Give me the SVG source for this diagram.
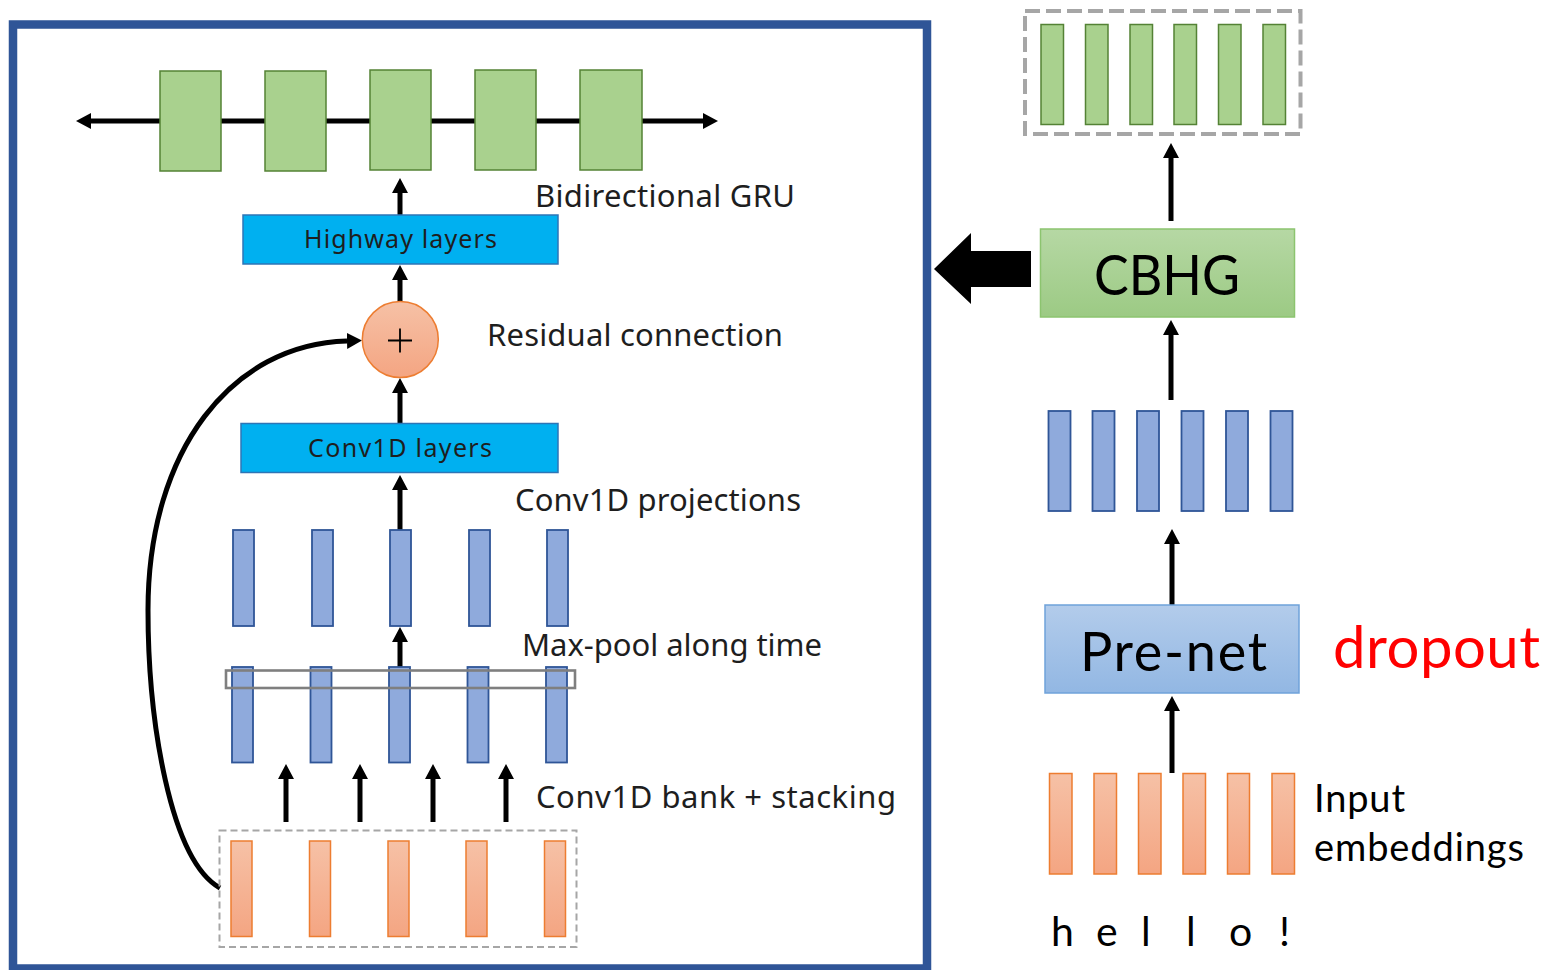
<svg xmlns="http://www.w3.org/2000/svg" width="1547" height="970" viewBox="0 0 1547 970">
  <style>
    .lbl { font-family: "Noto Sans", "Liberation Sans", sans-serif; fill: #1e1e1e; }
    .big { font-family: Lato, "Open Sans", sans-serif; fill: #000; }
    .gru { fill: #A9D18E; stroke: #548235; stroke-width: 1.5; }
    .blue { fill: #8FAADC; stroke: #2F5597; stroke-width: 1.8; }
    .orng { fill: url(#gOrange); stroke: #ED7D31; stroke-width: 1.5; }
    .cyan { fill: #00B0F0; stroke: #2E75B6; stroke-width: 1.5; }
    .arr { fill: none; stroke: #000; stroke-width: 5; marker-end: url(#ah); }
    .dash { fill: none; stroke: #A6A6A6; }
  </style>
  <defs>
    <linearGradient id="gOrange" x1="0" y1="0" x2="0" y2="1">
      <stop offset="0" stop-color="#F6C1A6"/>
      <stop offset="1" stop-color="#F4A582"/>
    </linearGradient>
    <linearGradient id="gGreen" x1="0" y1="0" x2="0" y2="1">
      <stop offset="0" stop-color="#B6D8A4"/>
      <stop offset="1" stop-color="#9CCA84"/>
    </linearGradient>
    <linearGradient id="gBlue" x1="0" y1="0" x2="0" y2="1">
      <stop offset="0" stop-color="#B3CCEB"/>
      <stop offset="1" stop-color="#92B7E3"/>
    </linearGradient>
    <marker id="ah" markerUnits="userSpaceOnUse" markerWidth="16" markerHeight="16" refX="0" refY="8" orient="auto-start-reverse">
      <path d="M0,0 L15,8 L0,16 z" fill="#000"/>
    </marker>
  </defs>

  <rect width="1547" height="970" fill="#fff"/>

  <!-- CBHG module frame -->
  <rect id="cbhg-frame" x="13" y="24.5" width="914" height="944" fill="none" stroke="#2F5597" stroke-width="8.5"/>

  <!-- connectors -->
  <g id="connectors">
    <line x1="91" y1="121" x2="703" y2="121" stroke="#000" stroke-width="5" marker-start="url(#ah)" marker-end="url(#ah)"/>
    <line class="arr" x1="400" y1="215" x2="400" y2="193"/>
    <line class="arr" x1="400" y1="302" x2="400" y2="280"/>
    <line class="arr" x1="400" y1="423" x2="400" y2="393"/>
    <line class="arr" x1="400" y1="530" x2="400" y2="490"/>
    <line class="arr" x1="400" y1="670" x2="400" y2="642"/>
    <line class="arr" x1="286" y1="822" x2="286" y2="779"/>
    <line class="arr" x1="360" y1="822" x2="360" y2="779"/>
    <line class="arr" x1="433" y1="822" x2="433" y2="779"/>
    <line class="arr" x1="506" y1="822" x2="506" y2="779"/>
    <path class="arr" stroke-width="4.2" d="M220,888 C170,860 148,720 148,610 C148,450 232,344 347,341"/>
    <line class="arr" x1="1171" y1="221" x2="1171" y2="158"/>
    <line class="arr" x1="1171" y1="400" x2="1171" y2="335"/>
    <line class="arr" x1="1172" y1="607" x2="1172" y2="544"/>
    <line class="arr" x1="1172" y1="773" x2="1172" y2="711"/>
    <polygon points="934,269 971,233 971,251 1031,251 1031,287 971,287 971,304" fill="#000"/>
  </g>

  <!-- bidirectional GRU -->
  <g id="gru">
    <rect class="gru" x="160" y="71" width="61" height="100"/>
    <rect class="gru" x="265" y="71" width="61" height="100"/>
    <rect class="gru" x="370" y="70" width="61" height="100"/>
    <rect class="gru" x="475" y="70" width="61" height="100"/>
    <rect class="gru" x="580" y="70" width="62" height="100"/>
    <text class="lbl" x="535" y="207" font-size="31" textLength="260">Bidirectional GRU</text>
  </g>

  <g id="highway">
    <rect class="cyan" x="243" y="215" width="315" height="49"/>
    <text class="lbl" x="400.5" y="248" font-size="25" text-anchor="middle" textLength="193">Highway layers</text>
  </g>

  <g id="residual">
    <circle cx="400.3" cy="339.5" r="38" fill="url(#gOrange)" stroke="#ED7D31" stroke-width="1.5"/>
    <path d="M388,340.5 H412 M400,328.5 V352.5" stroke="#000" stroke-width="1.8"/>
    <text class="lbl" x="487" y="345.5" font-size="31" textLength="296">Residual connection</text>
  </g>

  <g id="conv-layers">
    <rect class="cyan" x="241" y="423.5" width="317" height="49"/>
    <text class="lbl" x="400" y="457" font-size="25" text-anchor="middle" textLength="184">Conv1D layers</text>
  </g>

  <g id="projections">
    <rect class="blue" x="233" y="530" width="21" height="96"/>
    <rect class="blue" x="312" y="530" width="21" height="96"/>
    <rect class="blue" x="390" y="530" width="21" height="96"/>
    <rect class="blue" x="469" y="530" width="21" height="96"/>
    <rect class="blue" x="547" y="530" width="21" height="96"/>
    <text class="lbl" x="515" y="510.5" font-size="31" textLength="286">Conv1D projections</text>
  </g>

  <g id="maxpool">
    <rect class="blue" x="232" y="667" width="21" height="95.5"/>
    <rect class="blue" x="310.5" y="667" width="21" height="95.5"/>
    <rect class="blue" x="389" y="667" width="21" height="95.5"/>
    <rect class="blue" x="467.5" y="667" width="21" height="95.5"/>
    <rect class="blue" x="546" y="667" width="21" height="95.5"/>
    <rect x="226" y="670.5" width="349" height="17.5" fill="none" stroke="#7F7F7F" stroke-width="2.6"/>
    <text class="lbl" x="522" y="656" font-size="31" textLength="300">Max-pool along time</text>
  </g>

  <g id="bank">
    <rect class="dash" x="219.5" y="830.5" width="357" height="116.5" stroke-width="2" stroke-dasharray="7,4"/>
    <rect class="orng" x="231" y="841" width="21" height="95.5"/>
    <rect class="orng" x="309.5" y="841" width="21" height="95.5"/>
    <rect class="orng" x="388" y="841" width="21" height="95.5"/>
    <rect class="orng" x="466" y="841" width="21" height="95.5"/>
    <rect class="orng" x="544.5" y="841" width="21" height="95.5"/>
    <text class="lbl" x="536" y="808" font-size="31" textLength="360">Conv1D bank + stacking</text>
  </g>

  <!-- encoder pipeline -->
  <g id="encoder-out">
    <rect class="dash" x="1025" y="11" width="275.5" height="123" stroke-width="4" stroke-dasharray="15,6"/>
    <rect class="gru" x="1041" y="24.5" width="22.5" height="100"/>
    <rect class="gru" x="1085.5" y="24.5" width="22.5" height="100"/>
    <rect class="gru" x="1130" y="24.5" width="22.5" height="100"/>
    <rect class="gru" x="1174" y="24.5" width="22.5" height="100"/>
    <rect class="gru" x="1218.5" y="24.5" width="22.5" height="100"/>
    <rect class="gru" x="1263" y="24.5" width="22.5" height="100"/>
  </g>

  <g id="cbhg">
    <rect x="1040.5" y="229" width="254" height="88" fill="url(#gGreen)" stroke="#8CC46F" stroke-width="1.5"/>
    <text class="big" x="1167" y="295" font-size="57" text-anchor="middle" textLength="146" lengthAdjust="spacingAndGlyphs">CBHG</text>
  </g>

  <g id="prenet-out">
    <rect class="blue" x="1048.5" y="411" width="22" height="100"/>
    <rect class="blue" x="1092.5" y="411" width="22" height="100"/>
    <rect class="blue" x="1137" y="411" width="22" height="100"/>
    <rect class="blue" x="1181.5" y="411" width="22" height="100"/>
    <rect class="blue" x="1226" y="411" width="22" height="100"/>
    <rect class="blue" x="1270.5" y="411" width="22" height="100"/>
  </g>

  <g id="prenet">
    <rect x="1045" y="605" width="254" height="88" fill="url(#gBlue)" stroke="#6FA2DA" stroke-width="1.5"/>
    <text class="big" x="1173.5" y="671" font-size="54" text-anchor="middle" textLength="187">Pre-net</text>
    <text x="1333" y="668" font-family="Lato, 'Open Sans', sans-serif" font-size="58" fill="#FF0000" textLength="207">dropout</text>
  </g>

  <g id="embeddings">
    <rect class="orng" x="1049.5" y="773.5" width="22.5" height="100.5"/>
    <rect class="orng" x="1094" y="773.5" width="22.5" height="100.5"/>
    <rect class="orng" x="1138.5" y="773.5" width="22.5" height="100.5"/>
    <rect class="orng" x="1183" y="773.5" width="22.5" height="100.5"/>
    <rect class="orng" x="1227.5" y="773.5" width="22" height="100.5"/>
    <rect class="orng" x="1272" y="773.5" width="22.5" height="100.5"/>
    <text class="big" x="1314" y="812" font-size="38" textLength="91">Input</text>
    <text class="big" x="1314" y="861" font-size="38" textLength="210">embeddings</text>
    <text class="big" font-size="41" y="946" x="1051 1073 1096 1119 1141 1164 1186 1208 1229 1260 1279">h e l l o !</text>
  </g>
</svg>
